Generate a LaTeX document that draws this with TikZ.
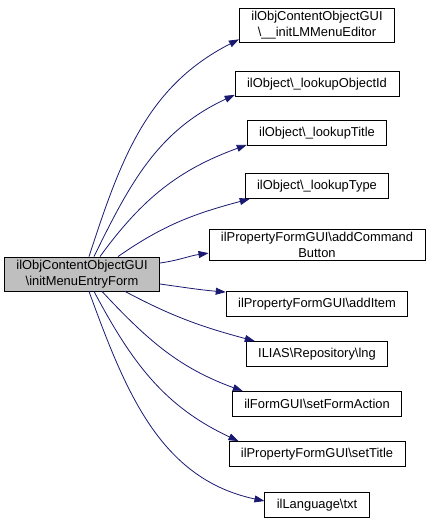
\documentclass[tikz,border=0pt]{standalone}
\usepackage{fontspec}
\setmainfont{Liberation Sans}
\usetikzlibrary{positioning,arrows.meta}

\definecolor{edgeblue}{HTML}{191970}
\definecolor{rootgray}{HTML}{BFBFBF}

\begin{document}
\begin{tikzpicture}[x=1pt, y=1pt]
        \tikzset{
            func/.style={draw=black, line width=0.8pt, fill=white, rectangle, align=center,
                minimum height=25pt, inner xsep=12pt, inner ysep=3pt,
                font=\fontsize{12.9}{16}\selectfont},
            root/.style={func, fill=rootgray},
            call/.style={draw=edgeblue, line width=0.8pt, -{Triangle[length=10pt, width=7pt]}},
        }
        \useasboundingbox (0,0) rectangle (431,-525);

        \node[root] (init) at (82, -274) {ilObjContentObjectGUI\\\textbackslash initMenuEntryForm};

        \node[func] (menueditor) at (317, -25) {ilObjContentObjectGUI\\\textbackslash \_\_initLMMenuEditor};
        \node[func] (objectid) at (317, -84) {ilObject\textbackslash \_lookupObjectId};
        \node[func] (title) at (317, -133) {ilObject\textbackslash \_lookupTitle};
        \node[func] (type) at (317, -186) {ilObject\textbackslash \_lookupType};
        \node[func] (cmdbutton) at (317, -245) {ilPropertyFormGUI\textbackslash addCommand\\Button};
        \node[func] (additem) at (317, -304) {ilPropertyFormGUI\textbackslash addItem};
        \node[func] (lng) at (317, -354) {ILIAS\textbackslash Repository\textbackslash lng};
        \node[func] (formaction) at (317, -404) {ilFormGUI\textbackslash setFormAction};
        \node[func] (settitle) at (317, -454) {ilPropertyFormGUI\textbackslash setTitle};
        \node[func] (txt) at (317, -505) {ilLanguage\textbackslash txt};

        % calls leaving the top
        \draw[call] ([xshift=7pt]init.north) to[out=72, in=207] ([yshift=3pt]menueditor.south west);
        \draw[call] ([xshift=12pt]init.north) to[out=64, in=205] ([yshift=2pt]objectid.south west);
        \draw[call] ([xshift=18pt]init.north) to[out=54, in=200] ([yshift=1pt]title.south west);
        \draw[call] ([xshift=36pt]init.north) to[out=35, in=195] ([xshift=5pt]type.south west);

        % calls leaving the side
        \draw[call] ([yshift=11pt]init.east) to[out=8, in=188] ([yshift=8pt]cmdbutton.south west);
        \draw[call] ([yshift=-10pt]init.east) to[out=-8, in=175] ([yshift=-1pt]additem.north west);

        % calls leaving the bottom
        \draw[call] ([xshift=43pt]init.south) to[out=-28, in=165] ([xshift=9pt]lng.north west);
        \draw[call] ([xshift=20pt]init.south) to[out=-47, in=160] ([xshift=11pt]formaction.north west);
        \draw[call] ([xshift=12pt]init.south) to[out=-62, in=155] ([xshift=10pt]settitle.north west);
        \draw[call] ([xshift=7pt]init.south) to[out=-70, in=168] ([yshift=4pt]txt.west);
\end{tikzpicture}
\end{document}
